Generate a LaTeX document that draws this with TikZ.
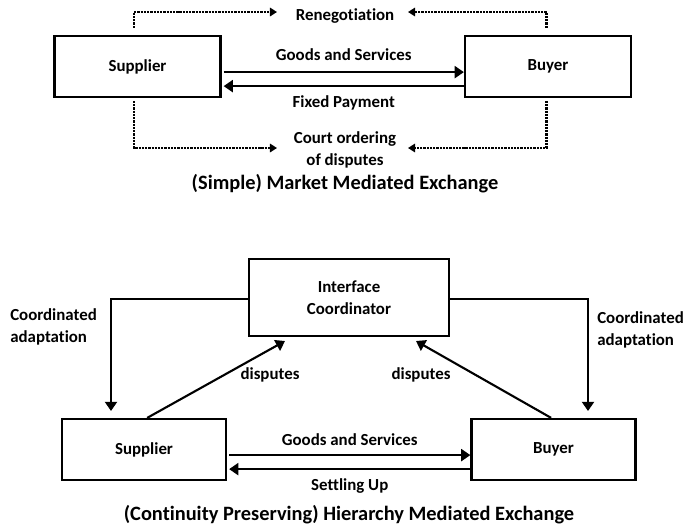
\documentclass[tikz,border=0pt]{standalone}
\usepackage{fontspec}
\setmainfont{Carlito}[Ligatures=NoCommon]
\usetikzlibrary{arrows.meta}
\tikzset{party/.style={draw=black, line width=1.6pt, minimum width=#1, minimum height=1.525cm, font=\fontsize{12}{15.5}\selectfont\bfseries, align=center},
party/.default={4.15cm},
flow/.style={line width=1.5pt, -{Triangle[length=6.5pt,width=8.5pt]}},
talk/.style={line width=1.9pt, dash pattern=on 1.6pt off 0.7pt, -{Triangle[length=5pt,width=6pt]}},
lbl/.style={font=\fontsize{12}{15.5}\selectfont\bfseries, inner sep=0pt},
caption/.style={font=\fontsize{14.5}{17}\selectfont\bfseries, inner sep=0pt}}

\begin{document}
\begin{tikzpicture}[x=0.025cm,y=-0.025cm]
		\useasboundingbox (0,0) rectangle (688,529);

		% market mediated exchange
		\node[party] (sup1) at (137.5,66.5) {Supplier};
		\node[party] (buy1) at (548,66.5) {Buyer};

		\draw[flow] ([xshift=0.05cm,yshift=-0.14cm]sup1.east) -- ([yshift=-0.14cm]buy1.west)
		node[lbl,midway,above=0.27cm] (gs1) {Goods and Services};
		\draw[flow] ([yshift=-0.49cm]buy1.west) -- ([xshift=0.05cm,yshift=-0.49cm]sup1.east)
		node[lbl,midway,below=0.2cm] (fp1) {Fixed Payment};

		\node[lbl] (reneg) at (345,16) {Renegotiation};
		\coordinate (rnL) at (277,12);
		\coordinate (rnR) at (408,12);
		\draw[talk] ([xshift=-0.09cm,yshift=0.175cm]sup1.north) |- (rnL);
		\draw[talk] ([xshift=-0.03cm,yshift=0.175cm]buy1.north) |- (rnR);

		\node[lbl,align=center] (court) at (345,150) {Court ordering\\of disputes};
		\coordinate (ctL) at (277,148);
		\coordinate (ctR) at (408,148);
		\draw[talk] ([xshift=-0.09cm,yshift=-0.07cm]sup1.south) |- (ctL);
		\draw[talk] ([xshift=-0.03cm,yshift=-0.07cm]buy1.south) |- (ctR);

		\node[caption] (title1) at (345,184) {(Simple) Market Mediated Exchange};

		% hierarchy mediated exchange
		\node[party,minimum height=1.925cm,minimum width=5cm] (ic) at (349,297.5) {Interface\\Coordinator};
		\node[party,minimum width=4.1cm] (sup2) at (144,449.5) {Supplier};
		\node[party,minimum width=4.1cm] (buy2) at (553.5,449.5) {Buyer};

		\draw[flow] ([xshift=0.05cm,yshift=-0.14cm]sup2.east) -- ([yshift=-0.14cm]buy2.west)
		node[lbl,midway,above=0.22cm] (gs2) {Goods and Services};
		\draw[flow] ([yshift=-0.49cm]buy2.west) -- ([xshift=0.05cm,yshift=-0.49cm]sup2.east)
		node[lbl,midway,below=0.2cm] (su2) {Settling Up};

		\coordinate (caL) at (111,411);
		\coordinate (caR) at (588,411);
		\draw[flow] ([yshift=-0.04cm]ic.west) -| (caL);
		\draw[flow] ([yshift=-0.04cm]ic.east) -| (caR);
		\node[lbl,align=left,anchor=west] (cal) at (10,327) {Coordinated\\adaptation};
		\node[lbl,align=left,anchor=west] (car) at (597,330) {Coordinated\\adaptation};

		\coordinate (dpL) at (285,341);
		\coordinate (dpR) at (416,341);
		\draw[flow] ([xshift=0.08cm]sup2.north) -- (dpL);
		\draw[flow] ([xshift=-0.06cm]buy2.north) -- (dpR);
		\node[lbl] (dsl) at (270,375) {disputes};
		\node[lbl] (dsr) at (421,375) {disputes};

		\node[caption] (title2) at (349,515) {(Continuity Preserving) Hierarchy Mediated Exchange};
	\end{tikzpicture}
\end{document}
